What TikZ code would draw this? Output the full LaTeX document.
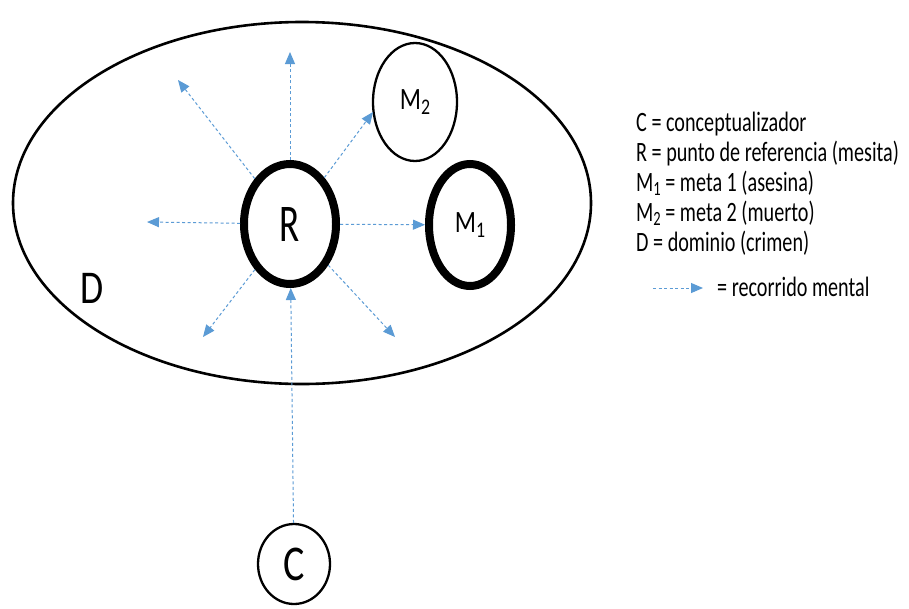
\documentclass[tikz,border=0pt]{standalone}
\usepackage{fontspec}
\setmainfont{Carlito}[FakeStretch=0.8]
\newfontfamily\legfont{Carlito}[FakeStretch=0.72]
\newfontfamily\narrowfont{Carlito}[FakeStretch=0.7]
\usetikzlibrary{shapes.geometric,arrows.meta}
\definecolor{arrblue}{HTML}{5B9BD5}
\newcommand\subidx[1]{\raisebox{-0.3ex}{\scalebox{0.72}{#1}}}
\begin{document}
\begin{tikzpicture}[x=1pt,y=-1pt,
  oval/.style={ellipse,draw,inner sep=0pt},
  thinoval/.style={oval,line width=2.3pt},
  thickoval/.style={oval,line width=8pt},
  mental/.style={arrblue,line width=1pt,dash pattern=on 3pt off 2.5pt,-{Triangle[length=12pt,width=10pt]}},
  legend/.style={anchor=base west,inner sep=0pt,font=\legfont\fontsize{28}{30}\selectfont}]
\useasboundingbox (0,0) rectangle (909,608);
\fill[white] (0,0) rectangle (909,608);
% domain
\node[thinoval, line width=2.6pt, minimum width=578pt, minimum height=362pt] (dom) at (302,203) {};
\node[inner sep=0pt, font=\fontsize{47}{50}\selectfont] (dlab) at (92,288) {D};
% reference point and targets
\node[thickoval, minimum width=92pt, minimum height=120pt, font=\narrowfont\fontsize{53}{56}\selectfont] (R) at (290,224) {R};
\node[thickoval, minimum width=82pt, minimum height=122pt, font=\fontsize{31}{34}\selectfont] (M1) at (470,225) {M\subidx{1}};
\node[thinoval, minimum width=84pt, minimum height=118pt, font=\fontsize{31}{34}\selectfont] (M2) at (415,102) {M\subidx{2}};
\node[thinoval, minimum width=72pt, minimum height=80pt, font=\fontsize{50}{54}\selectfont] (C) at (294,564) {C};
% mental paths
\coordinate (tU) at (290,52);
\coordinate (tUL) at (178,80);
\coordinate (tUR) at (373,112);
\coordinate (tL) at (147,222);
\coordinate (tDL) at (203,337);
\coordinate (tDR) at (395,337);
\draw[mental] (R) -- (tU);
\draw[mental] (R) -- (tUL);
\draw[mental] (R) -- (tUR);
\draw[mental] (R) -- (tL);
\draw[mental] (R) -- (tDL);
\draw[mental] (R) -- (tDR);
\draw[mental] (R) -- (M1);
\draw[mental] (C) -- (R);
% legend
\node[legend] (l1) at (636,131) {C = conceptualizador};
\node[legend] (l2) at (636,161) {R = punto de referencia (mesita)};
\node[legend] (l3) at (636,191) {M\subidx{1} = meta 1 (asesina)};
\node[legend] (l4) at (636,221) {M\subidx{2} = meta 2 (muerto)};
\node[legend] (l5) at (636,251) {D = dominio (crimen)};
\node[legend] (l6) at (717,296) {= recorrido mental};
\coordinate (ka) at (653,288);
\coordinate (kb) at (703,288);
\draw[mental] (ka) -- (kb);
\end{tikzpicture}
\end{document}
